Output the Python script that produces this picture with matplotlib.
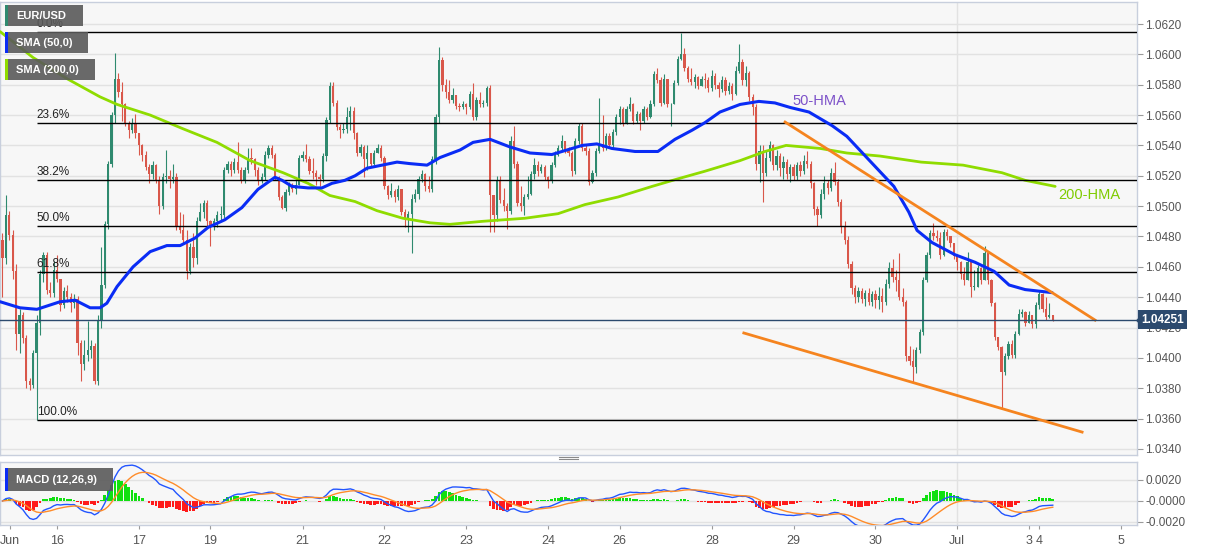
import matplotlib
matplotlib.use("Agg")
import matplotlib.pyplot as plt
from matplotlib.patches import Rectangle, Polygon
from matplotlib.lines import Line2D
import numpy as np
import pandas as pd

plt.rcParams['font.family'] = ['Liberation Sans', 'DejaVu Sans']

# hourly EUR/USD candles, open = previous close
first_open = 1.0478
closes = [
    1.0466, 1.0494, 1.0481, 1.0457, 1.0416, 1.0428, 1.0413, 1.0385, 1.0382, 1.0403,
    1.0423, 1.0455, 1.0468, 1.0445, 1.0443, 1.0458, 1.0452, 1.0435, 1.0444, 1.0440,
    1.0436, 1.0439, 1.0410, 1.0396, 1.0402, 1.0405, 1.0408, 1.0385, 1.0424, 1.0448,
    1.0488, 1.0528, 1.0560, 1.0584, 1.0575, 1.0567, 1.0555, 1.0550, 1.0555, 1.0548,
    1.0540, 1.0534, 1.0526, 1.0521, 1.0527, 1.0517, 1.0500, 1.0519, 1.0520, 1.0518,
    1.0519, 1.0486,
    1.0484, 1.0478, 1.0457, 1.0473, 1.0466, 1.0490, 1.0496, 1.0502, 1.0490, 1.0487,
    1.0490, 1.0494, 1.0494, 1.0524, 1.0528, 1.0524, 1.0529, 1.0524, 1.0517, 1.0524,
    1.0532, 1.0531, 1.0524, 1.0517, 1.0519, 1.0534, 1.0538, 1.0534, 1.0519, 1.0506,
    1.0499, 1.0509, 1.0514, 1.0511, 1.0514, 1.0532, 1.0534, 1.0531, 1.0523, 1.0522,
    1.0519, 1.0518, 1.0533, 1.0557, 1.0579, 1.0568, 1.0552, 1.0550, 1.0551, 1.0559,
    1.0563,
    1.0548, 1.0535, 1.0539, 1.0531, 1.0535, 1.0528, 1.0535, 1.0538, 1.0532, 1.0513,
    1.0507, 1.0510, 1.0506, 1.0511, 1.0496, 1.0492, 1.0495, 1.0505, 1.0508, 1.0518,
    1.0521, 1.0513, 1.0511, 1.0531, 1.0559, 1.0596, 1.0580, 1.0575, 1.0570, 1.0573,
    1.0566, 1.0565, 1.0567, 1.0565, 1.0574, 1.0559, 1.0570, 1.0567, 1.0568, 1.0578,
    1.0507, 1.0494, 1.0517, 1.0504, 1.0500, 1.0497, 1.0543, 1.0528, 1.0502, 1.0500,
    1.0506, 1.0508, 1.0521,
    1.0527, 1.0523, 1.0526, 1.0519, 1.0517, 1.0527, 1.0534, 1.0538, 1.0543, 1.0537,
    1.0535, 1.0523, 1.0543, 1.0553, 1.0538, 1.0536, 1.0516, 1.0522, 1.0536, 1.0541,
    1.0538, 1.0546, 1.0540, 1.0549, 1.0559, 1.0564, 1.0555, 1.0564, 1.0567, 1.0556,
    1.0561, 1.0556, 1.0564, 1.0559, 1.0567, 1.0587, 1.0583, 1.0568, 1.0584, 1.0567,
    1.0567, 1.0581, 1.0597, 1.0600, 1.0591, 1.0584, 1.0582, 1.0585, 1.0579, 1.0584,
    1.0583, 1.0578, 1.0586, 1.0580, 1.0577, 1.0583, 1.0576, 1.0579, 1.0574, 1.0589,
    1.0595, 1.0583, 1.0588, 1.0572, 1.0565, 1.0528, 1.0536, 1.0522, 1.0532, 1.0540,
    1.0527, 1.0533, 1.0525, 1.0529, 1.0521, 1.0526, 1.0520, 1.0527, 1.0523, 1.0530,
    1.0528, 1.0515, 1.0498, 1.0494, 1.0508, 1.0515, 1.0512, 1.0522, 1.0516, 1.0503,
    1.0486, 1.0478, 1.0462, 1.0446, 1.0440, 1.0444, 1.0439, 1.0443, 1.0437, 1.0442,
    1.0438, 1.0441, 1.0437, 1.0449, 1.0459, 1.0453, 1.0451,
    1.0440, 1.0437, 1.0401, 1.0398, 1.0394, 1.0405, 1.0417, 1.0451, 1.0468, 1.0482,
    1.0480, 1.0479, 1.0468, 1.0483, 1.0480, 1.0476, 1.0467, 1.0463, 1.0455, 1.0451,
    1.0463, 1.0447, 1.0447, 1.0459, 1.0451, 1.0469, 1.0451, 1.0436, 1.0414, 1.0407,
    1.0391, 1.0401, 1.0409, 1.0402, 1.0416, 1.0429, 1.0430, 1.0423, 1.0428, 1.0422,
    1.0435, 1.0442, 1.0432, 1.0427, 1.0428, 1.0425,
]
highs = [
    1.0482, 1.0507, 1.0497, 1.0484, 1.0462, 1.0432, 1.0430, 1.0415, 1.0387, 1.0405,
    1.0428, 1.0458, 1.0470, 1.0470, 1.0450, 1.0464, 1.0468, 1.0452, 1.0447, 1.0448,
    1.0443, 1.0442, 1.0441, 1.0412, 1.0412, 1.0424, 1.0412, 1.0410, 1.0428, 1.0473,
    1.0490, 1.0530, 1.0562, 1.0601, 1.0588, 1.0582, 1.0568, 1.0556, 1.0558, 1.0561,
    1.0546, 1.0541, 1.0536, 1.0528, 1.0530, 1.0528, 1.0520, 1.0522, 1.0537, 1.0524,
    1.0528, 1.0522,
    1.0496, 1.0495, 1.0484, 1.0476, 1.0482, 1.0493, 1.0502, 1.0504, 1.0504, 1.0491,
    1.0492, 1.0497, 1.0500, 1.0526, 1.0530, 1.0530, 1.0532, 1.0542, 1.0526, 1.0526,
    1.0538, 1.0538, 1.0532, 1.0526, 1.0522, 1.0536, 1.0540, 1.0540, 1.0535, 1.0520,
    1.0507, 1.0511, 1.0516, 1.0515, 1.0517, 1.0534, 1.0536, 1.0541, 1.0533, 1.0532,
    1.0524, 1.0521, 1.0535, 1.0559, 1.0582, 1.0582, 1.0570, 1.0554, 1.0555, 1.0565,
    1.0566,
    1.0565, 1.0549, 1.0541, 1.0540, 1.0540, 1.0535, 1.0537, 1.0541, 1.0540, 1.0533,
    1.0514, 1.0515, 1.0511, 1.0514, 1.0511, 1.0498, 1.0497, 1.0508, 1.0511, 1.0520,
    1.0524, 1.0522, 1.0520, 1.0533, 1.0561, 1.0605, 1.0598, 1.0584, 1.0583, 1.0578,
    1.0571, 1.0568, 1.0569, 1.0568, 1.0576, 1.0581, 1.0572, 1.0575, 1.0570, 1.0579,
    1.0580, 1.0507, 1.0520, 1.0520, 1.0512, 1.0502, 1.0546, 1.0553, 1.0530, 1.0513,
    1.0508, 1.0520, 1.0523,
    1.0532, 1.0530, 1.0528, 1.0527, 1.0520, 1.0529, 1.0536, 1.0540, 1.0547, 1.0543,
    1.0539, 1.0536, 1.0545, 1.0555, 1.0555, 1.0540, 1.0538, 1.0524, 1.0538, 1.0571,
    1.0560, 1.0548, 1.0548, 1.0551, 1.0561, 1.0566, 1.0565, 1.0566, 1.0572, 1.0568,
    1.0563, 1.0562, 1.0566, 1.0565, 1.0570, 1.0589, 1.0591, 1.0585, 1.0587, 1.0580,
    1.0568, 1.0583, 1.0599, 1.0614, 1.0604, 1.0592, 1.0591, 1.0587, 1.0586, 1.0586,
    1.0588, 1.0585, 1.0590, 1.0588, 1.0582, 1.0586, 1.0585, 1.0582, 1.0581, 1.0592,
    1.0607, 1.0597, 1.0592, 1.0589, 1.0574, 1.0567, 1.0540, 1.0540, 1.0536, 1.0543,
    1.0541, 1.0537, 1.0535, 1.0533, 1.0531, 1.0528, 1.0528, 1.0529, 1.0530, 1.0534,
    1.0536, 1.0530, 1.0516, 1.0500, 1.0511, 1.0520, 1.0517, 1.0525, 1.0529, 1.0518,
    1.0505, 1.0490, 1.0480, 1.0464, 1.0448, 1.0447, 1.0446, 1.0445, 1.0446, 1.0444,
    1.0445, 1.0447, 1.0446, 1.0452, 1.0463, 1.0465, 1.0458,
    1.0469, 1.0446, 1.0438, 1.0408, 1.0406, 1.0407, 1.0419, 1.0453, 1.0470, 1.0484,
    1.0489, 1.0484, 1.0483, 1.0485, 1.0485, 1.0479, 1.0476, 1.0468, 1.0464, 1.0460,
    1.0470, 1.0461, 1.0458, 1.0461, 1.0460, 1.0474, 1.0470, 1.0452, 1.0437, 1.0414,
    1.0408, 1.0403, 1.0411, 1.0412, 1.0418, 1.0432, 1.0432, 1.0431, 1.0431, 1.0428,
    1.0437, 1.0445, 1.0443, 1.0440, 1.0436, 1.0427,
]
lows = [
    1.0440, 1.0462, 1.0478, 1.0452, 1.0405, 1.0403, 1.0410, 1.0380, 1.0379, 1.0380,
    1.0359, 1.0415, 1.0450, 1.0442, 1.0440, 1.0440, 1.0450, 1.0431, 1.0433, 1.0437,
    1.0430, 1.0433, 1.0402, 1.0385, 1.0392, 1.0398, 1.0400, 1.0383, 1.0382, 1.0420,
    1.0446, 1.0485, 1.0526, 1.0555, 1.0572, 1.0556, 1.0553, 1.0545, 1.0548, 1.0545,
    1.0534, 1.0530, 1.0524, 1.0515, 1.0518, 1.0515, 1.0495, 1.0498, 1.0515, 1.0512,
    1.0515, 1.0484,
    1.0482, 1.0476, 1.0452, 1.0455, 1.0460, 1.0462, 1.0490, 1.0492, 1.0487, 1.0474,
    1.0484, 1.0486, 1.0491, 1.0492, 1.0522, 1.0520, 1.0522, 1.0522, 1.0515, 1.0515,
    1.0522, 1.0528, 1.0520, 1.0514, 1.0515, 1.0517, 1.0532, 1.0532, 1.0517, 1.0504,
    1.0498, 1.0497, 1.0507, 1.0509, 1.0508, 1.0514, 1.0530, 1.0529, 1.0521, 1.0518,
    1.0514, 1.0513, 1.0516, 1.0530, 1.0555, 1.0566, 1.0550, 1.0545, 1.0548, 1.0548,
    1.0550,
    1.0544, 1.0533, 1.0533, 1.0519, 1.0524, 1.0526, 1.0527, 1.0535, 1.0530, 1.0511,
    1.0505, 1.0506, 1.0503, 1.0504, 1.0494, 1.0486, 1.0483, 1.0469, 1.0503, 1.0505,
    1.0516, 1.0510, 1.0509, 1.0509, 1.0528, 1.0555, 1.0576, 1.0571, 1.0568, 1.0568,
    1.0564, 1.0563, 1.0564, 1.0561, 1.0564, 1.0557, 1.0557, 1.0565, 1.0565, 1.0566,
    1.0483, 1.0483, 1.0490, 1.0502, 1.0497, 1.0485, 1.0495, 1.0525, 1.0500, 1.0497,
    1.0494, 1.0505, 1.0507,
    1.0518, 1.0520, 1.0522, 1.0517, 1.0512, 1.0515, 1.0526, 1.0533, 1.0537, 1.0535,
    1.0533, 1.0520, 1.0521, 1.0541, 1.0536, 1.0534, 1.0514, 1.0515, 1.0520, 1.0535,
    1.0536, 1.0537, 1.0538, 1.0538, 1.0547, 1.0554, 1.0553, 1.0554, 1.0563, 1.0554,
    1.0555, 1.0550, 1.0555, 1.0557, 1.0558, 1.0566, 1.0581, 1.0566, 1.0567, 1.0565,
    1.0553, 1.0567, 1.0580, 1.0596, 1.0589, 1.0582, 1.0580, 1.0578, 1.0577, 1.0582,
    1.0578, 1.0575, 1.0576, 1.0577, 1.0572, 1.0575, 1.0573, 1.0574, 1.0570, 1.0573,
    1.0588, 1.0580, 1.0579, 1.0569, 1.0560, 1.0524, 1.0516, 1.0503, 1.0520, 1.0530,
    1.0524, 1.0524, 1.0520, 1.0518, 1.0518, 1.0516, 1.0517, 1.0517, 1.0520, 1.0521,
    1.0525, 1.0512, 1.0494, 1.0487, 1.0492, 1.0505, 1.0508, 1.0510, 1.0514, 1.0500,
    1.0482, 1.0475, 1.0459, 1.0442, 1.0436, 1.0437, 1.0436, 1.0434, 1.0435, 1.0434,
    1.0433, 1.0432, 1.0430, 1.0435, 1.0446, 1.0450, 1.0444,
    1.0438, 1.0434, 1.0398, 1.0395, 1.0384, 1.0390, 1.0403, 1.0415, 1.0450, 1.0466,
    1.0478, 1.0477, 1.0465, 1.0467, 1.0478, 1.0473, 1.0465, 1.0458, 1.0452, 1.0448,
    1.0452, 1.0440, 1.0445, 1.0454, 1.0449, 1.0451, 1.0449, 1.0434, 1.0412, 1.0405,
    1.0366, 1.0389, 1.0399, 1.0400, 1.0400, 1.0415, 1.0427, 1.0421, 1.0424, 1.0420,
    1.0420, 1.0432, 1.0430, 1.0425, 1.0426, 1.0424,
]
last_price = 1.04251

# moving averages (candle index, price)
hma50_x = [-0.7, 5.1, 10.1, 16.9, 21.3, 25.7, 28.6, 30.6, 33.6, 38.3, 43.3, 48.2, 52.1,
           56.5, 60.3, 65.2, 70.2, 74.9, 79.9, 82.0, 84.9, 89.6, 93.7, 96.6, 100.4,
           103.4, 106.9, 115.7, 119.5, 124.5, 128.3, 134.2, 138.0, 143.0, 148.8, 154.7,
           161.1, 170.0, 174.3, 178.7, 185.5, 192.2, 197.2, 202.2, 206.0, 210.4, 216.3,
           221.8, 226.5, 231.0, 236.5, 243.3, 247.6, 254.7, 261.4, 265.8, 268.2, 272.6,
           279.3, 285.2, 290.8, 295.2, 299.9, 307.8]
hma50_y = [1.0437, 1.0433, 1.0432, 1.0437, 1.0438, 1.0433, 1.0433, 1.0436, 1.0447, 1.0460,
           1.0470, 1.0474, 1.0474, 1.0479, 1.0486, 1.0491, 1.0499, 1.0511, 1.0519, 1.0517,
           1.0513, 1.0512, 1.0512, 1.0515, 1.0517, 1.0520, 1.0525, 1.0529, 1.0528, 1.0527,
           1.0532, 1.0537, 1.0542, 1.0544, 1.0539, 1.0535, 1.0534, 1.0540, 1.0541, 1.0538,
           1.0536, 1.0536, 1.0544, 1.0550, 1.0555, 1.0562, 1.0567, 1.0569, 1.0568, 1.0565,
           1.0562, 1.0553, 1.0546, 1.0529, 1.0513, 1.0496, 1.0484, 1.0476, 1.0468, 1.0463,
           1.0457, 1.0448, 1.0445, 1.0443]
hma200_x = [-0.7, 8.9, 18.9, 28.6, 33.6, 43.3, 52.9, 62.9, 72.6, 82.3, 89.6, 96.0, 103.4,
            109.8, 117.4, 125.4, 131.2, 140.9, 153.2, 162.9, 170.8, 180.5, 190.5, 198.1,
            206.0, 216.3, 223.6, 229.8, 239.8, 247.6, 257.3, 269.4, 281.7, 293.1, 299.9,
            308.7]
hma200_y = [1.0615, 1.0598, 1.0584, 1.0572, 1.0567, 1.0560, 1.0551, 1.0542, 1.0530, 1.0522,
            1.0515, 1.0507, 1.0503, 1.0497, 1.0492, 1.0489, 1.0488, 1.0490, 1.0492, 1.0495,
            1.0501, 1.0506, 1.0513, 1.0518, 1.0523, 1.0530, 1.0536, 1.0540, 1.0538, 1.0535,
            1.0533, 1.0529, 1.0527, 1.0522, 1.0517, 1.0513]

# hand-drawn channel
upper_x, upper_y = [229.5, 320.4], [1.05554, 1.04249]
lower_x, lower_y = [217.4, 316.6], [1.04164, 1.03511]

# fibonacci retracement
fib_start = 10
fib_low, fib_high = 1.0359, 1.0615
fib_ratios = [0.0, 0.236, 0.382, 0.5, 0.618, 1.0]

tick_pos = [2.3, 16, 40, 61, 88, 112, 136, 160, 181, 208, 232, 256, 280, 301, 304, 328]
tick_lab = ['Jun', '16', '17', '19', '21', '22', '23', '24', '26', '28', '29', '30',
            'Jul', '3', '4', '5']
month_idx = 280

closes = np.array(closes)
highs = np.array(highs)
lows = np.array(lows)
assert len(closes) == len(highs) == len(lows)
n = len(closes)
idx = np.arange(n)
opens = np.r_[first_open, closes[:-1]]
hi = np.maximum.reduce([highs, opens, closes])
lo = np.minimum.reduce([lows, opens, closes])

UP, DOWN = '#2f8a6f', '#d9574a'
W, H = 1207, 555


def fx(px):
    return px / W


def fy(py):
    return 1 - py / H


fig = plt.figure(figsize=(W / 100, H / 100), dpi=100)
fig.patch.set_facecolor('white')
ax = fig.add_axes([0, fy(455), fx(1137), (455 - 2) / H])
axm = fig.add_axes([0, fy(525), fx(1137), (525 - 462) / H])

for a in (ax, axm):
    a.set_facecolor('#f7f7f7')
    for s in a.spines.values():
        s.set_color('#c8cfdd')
        s.set_linewidth(1)
    a.set_xlim(-0.73, 332.7)
    a.yaxis.tick_right()
    a.tick_params(axis='y', length=4, width=0.8, color='#9a9a9a', labelcolor='#555555',
                  labelsize=8.5, pad=2)
    a.axvline(month_idx, color='#e2e2e2', lw=1, zorder=0)

# main panel
yt = np.arange(1.0340, 1.06201, 0.002)
ax.set_yticks(yt)
ax.set_yticklabels([f"{v:.4f}" for v in yt])
ax.set_ylim(1.03360, 1.06345)
ax.grid(axis='y', color='#e2e2e2', lw=1, zorder=0)
ax.tick_params(axis='x', bottom=False, labelbottom=False)

col = np.where(closes >= opens, UP, DOWN)
ax.vlines(idx, lo, hi, colors=col, lw=0.8, zorder=3)
body = np.maximum(np.abs(closes - opens), 0.00005)
ax.bar(idx, body, bottom=np.minimum(opens, closes), width=0.66, color=col,
       linewidth=0, zorder=4)

ax.plot(hma200_x, hma200_y, color='#8fdc00', lw=2.0, zorder=5, solid_capstyle='round')
ax.plot(hma50_x, hma50_y, color='#0a2cf5', lw=2.2, zorder=6, solid_capstyle='round')
ax.plot(upper_x, upper_y, color='#f5841f', lw=2, zorder=6)
ax.plot(lower_x, lower_y, color='#f5841f', lw=2, zorder=6)

for r in fib_ratios:
    lvl = fib_high - r * (fib_high - fib_low)
    ax.hlines(lvl, fib_start, 340, colors='black', lw=1, zorder=5)
    ax.text(fib_start, lvl + 0.00012, f"{r * 100:.1f}%", fontsize=8.5, color='#222222',
            ha='left', va='bottom', zorder=7)

ax.text(231.8, 1.0569, '50-HMA', color='#7d52c9', fontsize=10.5, va='center', ha='left', zorder=7)
ax.text(309.5, 1.0507, '200-HMA', color='#7fcc00', fontsize=10.5, va='center', ha='left', zorder=7)

ax.axhline(last_price, color='#2c4a6e', lw=1, zorder=6)
ax.text(1.0035, last_price, f"{last_price:.5f}", transform=ax.get_yaxis_transform(),
        color='white', fontsize=8.5, fontweight='bold', va='center', ha='left', zorder=20,
        clip_on=False,
        bbox=dict(boxstyle='square,pad=0.28', fc='#2c4a6e', ec='none'))
fig.add_artist(Polygon([(fx(1136), fy(320.5)), (fx(1141), fy(315)), (fx(1141), fy(326))],
                       closed=True, transform=fig.transFigure, fc='#2c4a6e', ec='none',
                       zorder=19))

# MACD panel
s = pd.Series(closes)
macd = s.ewm(span=12, adjust=False).mean() - s.ewm(span=26, adjust=False).mean()
signal = macd.ewm(span=9, adjust=False).mean()
hist = (macd - signal).values
axm.set_ylim(-0.002286, 0.003714)
axm.set_yticks([0.002, 0.0, -0.002])
axm.set_yticklabels(['0.0020', '-0.0000', '-0.0020'])
axm.grid(axis='y', color='#e2e2e2', lw=1, zorder=0)
axm.bar(idx, hist, width=0.8, color=np.where(hist >= 0, '#10e010', '#ff1a1a'),
        linewidth=0, zorder=3)
axm.plot(idx, macd.values, color='#2255ff', lw=1, zorder=4)
axm.plot(idx, signal.values, color='#ff8c2a', lw=1, zorder=4)
axm.set_xticks(tick_pos)
axm.set_xticklabels(tick_lab)
axm.tick_params(axis='x', length=3, width=0.8, color='#9a9a9a', labelcolor='#555555',
                labelsize=9, pad=4)


def tag(x0, y0, x1, y1, stripe, text):
    fig.add_artist(Rectangle((fx(x0), fy(y1)), (x1 - x0) / W, (y1 - y0) / H,
                             transform=fig.transFigure, fc='#5a5a5a', ec='none',
                             alpha=0.9, zorder=10))
    fig.add_artist(Rectangle((fx(x0), fy(y1)), 3 / W, (y1 - y0) / H,
                             transform=fig.transFigure, fc=stripe, ec='none', zorder=11))
    fig.text(fx(x0 + 11), fy((y0 + y1) / 2 + 0.5), text, color='white', fontsize=8,
             fontweight='bold', va='center', ha='left', zorder=12)


tag(5, 5, 83, 26, UP, 'EUR/USD')
tag(5, 32, 88, 53, '#0a2cf5', 'SMA (50,0)')
tag(5, 59, 95, 80, '#8fdc00', 'SMA (200,0)')
tag(5, 468, 113, 491, '#0a2cf5', 'MACD (12,26,9)')

# panel resize handle
for yy in (456.5, 458.5):
    fig.add_artist(Line2D([fx(559), fx(578)], [fy(yy), fy(yy)], transform=fig.transFigure,
                          color='#8a8a8a', lw=0.8))

fig.savefig('out.png', dpi=100, facecolor='white')
